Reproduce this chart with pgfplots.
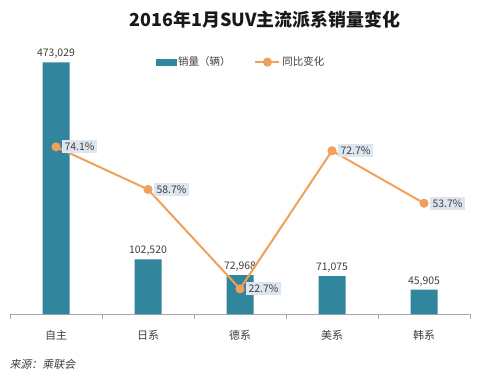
\documentclass[border=0pt]{standalone}
\usepackage{pgfplots}
\pgfplotsset{compat=1.18}
\usepackage{fontspec}
\setmainfont{Noto Sans CJK SC}
\newfontfamily\cjkit[FakeSlant=0.2]{Noto Sans CJK SC}
\definecolor{barc}{HTML}{31859C}
\definecolor{linec}{HTML}{F0A05A}
\definecolor{boxc}{HTML}{DDE5EF}
\definecolor{txt}{HTML}{404040}
\definecolor{axc}{HTML}{A6A6A6}
\begin{document}
\begin{tikzpicture}[x=1bp,y=1bp]
\path[use as bounding box, fill=white] (0,0) rectangle (500,381);
\node[font=\bfseries\fontsize{18}{20}\selectfont, text=black!90] at (265,361) {2016年1月SUV主流派系销量变化};
\node[anchor=west, font=\cjkit\fontsize{11}{13}\selectfont, text=txt] at (6,17) {来源：乘联会};
\begin{axis}[
  at={(10bp,67bp)}, anchor=south west, scale only axis,
  width=460bp, height=266bp,
  xmin=-0.5, xmax=4.5, ymin=0, ymax=500000,
  axis x line=bottom, axis y line=none,
  x axis line style={axc, -, line width=1bp},
  xtick={-0.5,0.5,...,4.5}, xticklabels={},
  tick style={axc, line width=1bp}, major tick length=5bp, tick align=outside,
  extra x ticks={0,1,2,3,4},
  extra x tick labels={自主,日系,德系,美系,韩系},
  extra x tick style={major tick length=0pt, tick label style={font=\fontsize{11}{13}\selectfont, text=txt, yshift=-13bp}},
  ybar, bar width=27bp,
  nodes near coords={\pgfmathprintnumber[fixed,precision=0,1000 sep={,},assume math mode=true]{\pgfplotspointmeta}},
  nodes near coords style={font=\fontsize{10.5}{12}\selectfont, text=txt},
]
\addplot[fill=barc, draw=none] coordinates {(0,473029) (1,102520) (2,72968) (3,71075) (4,45905)};
\end{axis}
\begin{axis}[
  at={(10bp,67bp)}, anchor=south west, scale only axis,
  width=460bp, height=266bp,
  xmin=-0.5, xmax=4.5, ymin=13.6, ymax=109.9,
  hide x axis, hide y axis,
  legend style={at={(0.31,0.947)}, anchor=west, draw=none, fill=none,
    font=\fontsize{10.5}{12}\selectfont, text=txt, legend columns=2,
    /tikz/every even column/.append style={column sep=22bp}},
  legend cell align=left,
  legend image code/.code={\draw[mark repeat=2,mark phase=2,#1] plot coordinates {(0bp,0bp)(12bp,0bp)(24bp,0bp)};},
]
\addlegendimage{legend image code/.code={\fill[barc] (0bp,-3bp) rectangle (20bp,3bp);}}
\addlegendentry{销量（辆）}
\addplot[linec, line width=2bp, mark=*, mark size=3.5bp, mark options={fill=linec, draw=linec},
  nodes near coords={\pgfmathprintnumber[fixed,fixed zerofill,precision=1,assume math mode=true]{\pgfplotspointmeta}\%},
  nodes near coords style={anchor=west, xshift=5bp, fill=boxc, inner sep=2.5bp, font=\fontsize{10.5}{12}\selectfont, text=txt},
] coordinates {(0,74.1) (1,58.7) (2,22.7) (3,72.7) (4,53.7)};
\addlegendentry{同比变化}
\end{axis}
\end{tikzpicture}
\end{document}
